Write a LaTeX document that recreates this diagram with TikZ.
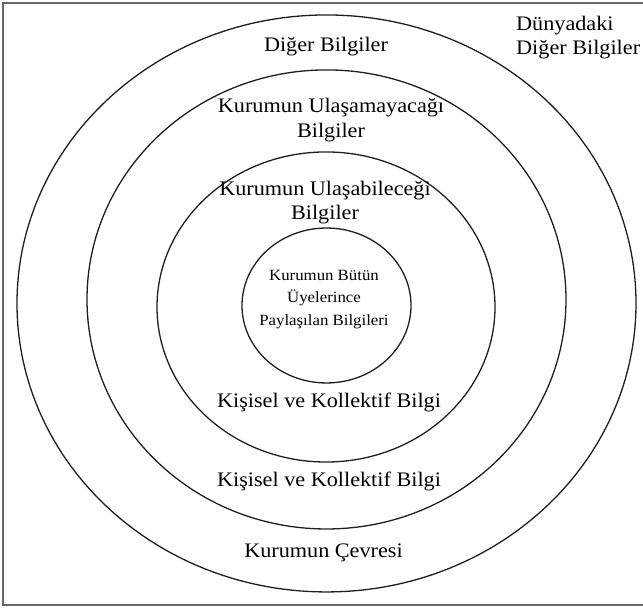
\documentclass[tikz,border=0pt]{standalone}
\usepackage{fontspec}
\setmainfont{Liberation Serif}
\begin{document}
\begin{tikzpicture}[x=1pt,y=1pt,yscale=0.93,
  every node/.style={transform shape},
  ring/.style={line width=1.3pt, draw=black!88},
  frame/.style={line width=2pt, draw=black!60},
  ringtext/.style={font=\fontsize{22.2}{26.3}\selectfont, align=center, inner sep=0pt, text=black},
  coretext/.style={font=\fontsize{16.8}{24.2}\selectfont, align=center, inner sep=0pt, text=black},
]
\useasboundingbox (0,0) rectangle (643,655.9);
\clip (0,0) rectangle (643,655.9);

% outer frame (its right edge runs past the page)
\draw[frame] (3,5.4) rectangle (660,652.7);

% nested knowledge rings
\draw[ring] (326.5,329.6) ellipse (309.5 and 310.2);
\draw[ring] (326.5,333.9) ellipse (239.5 and 246.8);
\draw[ring] (326,325.8)   ellipse (169 and 166.7);
\draw[ring] (326.5,327.4) ellipse (84.5 and 83.3);

% ring labels
\node[ringtext, anchor=west, align=left] (world) at (516,615.3) {Dünyadaki\\Diğer Bilgiler};
\node[ringtext] (other)   at (326,605.7) {Diğer Bilgiler};
\node[ringtext] (unreach) at (331,526.9) {Kurumun Ulaşamayacağı\\Bilgiler};
\node[ringtext] (reach)   at (325,438.3) {Kurumun Ulaşabileceği\\Bilgiler};
\node[coretext] (shared)  at (324,333.8) {Kurumun Bütün\\Üyelerince\\Paylaşılan Bilgileri};
\node[ringtext] (pk1)     at (329,222.9) {Kişisel ve Kollektif Bilgi};
\node[ringtext] (pk2)     at (329,138.0) {Kişisel ve Kollektif Bilgi};
\node[ringtext] (env)     at (323.5,61.8) {Kurumun Çevresi};
\end{tikzpicture}
\end{document}
